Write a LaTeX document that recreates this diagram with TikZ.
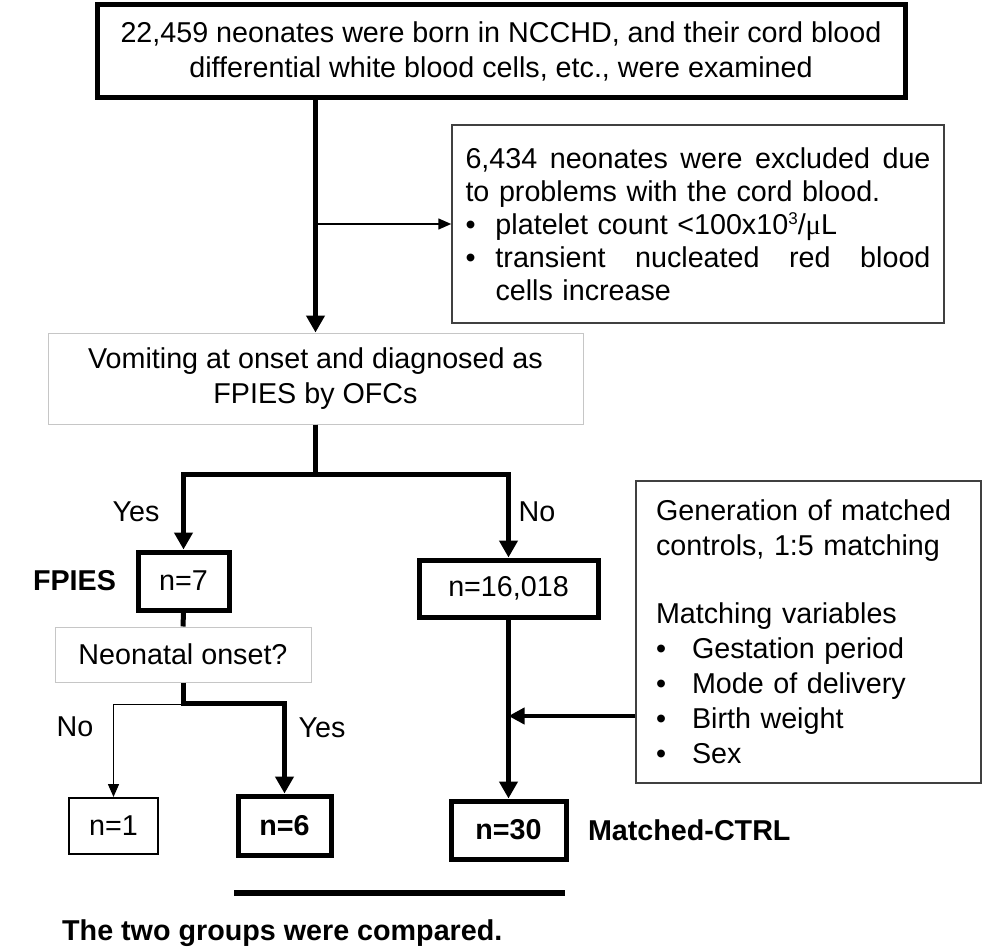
\documentclass[tikz,border=0pt]{standalone}
\usepackage{fontspec}
\setmainfont{Liberation Sans}
\newfontfamily\symbfont{Liberation Serif}
\usetikzlibrary{arrows.meta,positioning}

\begin{document}
\begin{tikzpicture}[x=1pt,y=-1pt,
	font=\fontsize{28.7}{35}\selectfont,
	boxthick/.style={draw,line width=5pt,inner sep=0pt,align=center},
	boxthin/.style={draw,line width=2pt,inner sep=0pt,align=center},
	boxgray/.style={draw=gray!45,line width=1pt,inner sep=0pt,align=center},
	boxnote/.style={draw=black!75,line width=1.5pt,inner ysep=0pt,align=left},
	flowthick/.style={line width=5pt,-{Triangle[length=17pt,width=18pt]}},
	flowmid/.style={line width=4pt,-{Triangle[length=16pt,width=16pt]}},
	flowthin/.style={line width=1.5pt,-{Triangle[length=13pt,width=11pt]}},
	answer/.style={inner sep=0pt},
	boldtext/.style={font=\fontsize{28.7}{35}\selectfont\bfseries}]

\useasboundingbox (0,0) rectangle (992,949);

%boxes
\node[boxthick,minimum width=808pt,minimum height=93pt] (born) at (501,51.5)
{22,459 neonates were born in NCCHD, and their cord blood\\differential white blood cells, etc., were examined};

\node[boxnote,text width=465pt,inner xsep=13.5pt,minimum height=198pt,
	font=\fontsize{28.7}{33}\selectfont] (excl) at (698,224)
{\makebox[465pt]{6,434\hfill neonates\hfill were\hfill excluded\hfill due}\\
	to problems with the cord blood.\\
	\makebox[30pt][l]{\textbullet}platelet count <100x10\raisebox{10pt}{\fontsize{17}{17}\selectfont 3}/{\symbfont μ}L\\
	\makebox[30pt][l]{\textbullet}\makebox[435pt]{transient\hfill nucleated\hfill red\hfill blood}\\
	\hspace*{30pt}cells increase};

\node[boxgray,minimum width=535pt,minimum height=91pt] (vomit) at (315.5,378.5)
{Vomiting at onset and diagnosed as\\FPIES by OFCs};

\node[boxthick,minimum width=91pt,minimum height=58pt] (nfpies) at (183.5,581) {n=7};
\node[boxthick,minimum width=179pt,minimum height=57pt] (nrest) at (508.5,588.5) {n=16,018};
\node[left=16pt of nfpies,boldtext] (tfpies) {FPIES};

\node[boxgray,minimum width=256pt,minimum height=55pt] (neo) at (183,654.5) {Neonatal onset?};

\node[boxthin,minimum width=89pt,minimum height=56pt] (none) at (113.5,826) {n=1};
\node[boxthick,minimum width=93pt,minimum height=59pt,boldtext] (nsix) at (284.5,825.5) {n=6};
\node[boxthick,minimum width=115pt,minimum height=58pt,boldtext] (nctrl) at (508.5,830) {n=30};
\node[right=16pt of nctrl,boldtext] (tctrl) {Matched-CTRL};

\node[boxnote,text width=305pt,inner xsep=20pt,minimum height=302pt] (match) at (808.5,632)
{Generation of matched\\
	controls, 1:5 matching\\[33pt]
	Matching variables\\
	\makebox[36pt][l]{\textbullet}Gestation period\\
	\makebox[36pt][l]{\textbullet}Mode of delivery\\
	\makebox[36pt][l]{\textbullet}Birth weight\\
	\makebox[36pt][l]{\textbullet}Sex};

%labels
\node[answer] (yesa) at (136,512) {Yes};
\node[answer] (noa) at (537,512) {No};
\node[answer] (nob) at (75,727) {No};
\node[answer] (yesb) at (322,728) {Yes};

%connectors
\draw[flowthick] (vomit.north |- born.south) -- (vomit.north);% main
\coordinate (exsplit) at (vomit.north |- excl.west);
\draw[flowthin] (exsplit) -- (excl.west);% excluded

\draw[flowthick] (vomit.south) -- ++(0,50) -| (nfpies.north);% yes
\draw[flowthick] (vomit.south) -- ++(0,50) -| (nrest.north);% no

\draw[line width=5pt] (nfpies.south) -- (neo.north);
\draw[flowthick] (neo.south) -- ++(0,21) -| (nsix.north);% neonatal
\draw[flowthin] (neo.south) ++(0,22) -| (none.north);% later onset

\draw[flowthick] (nrest.south) -- (nctrl.north);
\coordinate (mvar) at (match.west |- 0,716);
\draw[flowmid] (mvar) -- (nrest.south |- mvar);% matching

%compared
\coordinate (cmpl) at (234,893);
\coordinate (cmpr) at (565,893);
\draw[line width=6pt] (cmpl) -- (cmpr);
\node[anchor=west,inner sep=0pt,boldtext] (cmptext) at (62,933)
{The two groups were compared.};

\end{tikzpicture}
\end{document}
